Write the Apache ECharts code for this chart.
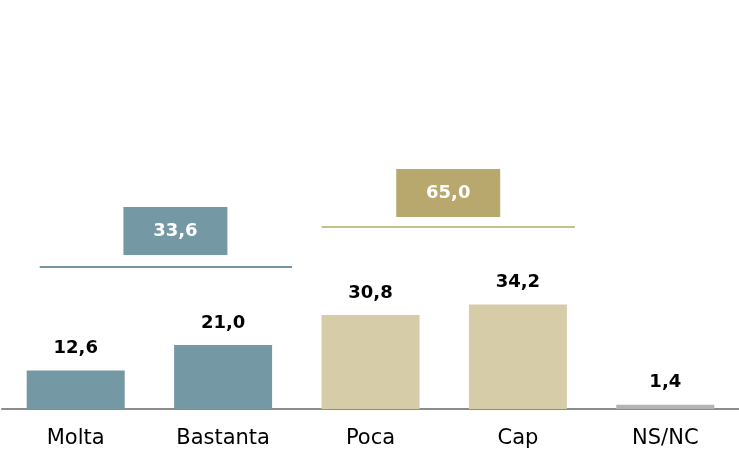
<!DOCTYPE html>
<html><head><meta charset="utf-8">
<script src="https://cdn.jsdelivr.net/npm/echarts@6/dist/echarts.min.js"></script>
<style>html,body{margin:0;padding:0;background:#fff}#c{width:739px;height:455px}</style>
</head><body><div id="c"></div>
<script>
const categories = ['Molta', 'Bastanta', 'Poca', 'Cap', 'NS/NC'];
const values = [12.6, 21.0, 30.8, 34.2, 1.4];
const groupTotals = [33.6, 65.0];
const groupStart = [0, 2];
const groupEnd = [1, 3];

const barColors = ['#7499A4', '#7499A4', '#D6CDA8', '#D6CDA8', '#B3B3B3'];
const boxColors = ['#7499A4', '#B9A86E'];
const lineColors = ['#7499A4', '#C9BD8C'];
// layout constants (value-axis levels / pixel offsets) for annotations
const LAYOUT = { level: [46.5, 59.6], lineL: [36, 49], lineR: [69, 57], boxDx: [26, 4], boxW: 104, boxH: 48, boxGap: [12, 10] };

const fmt = v => v.toFixed(1).replace('.', ',');
const FONT = 'DejaVu Sans';

const chart = echarts.init(document.getElementById('c'), null, { renderer: 'canvas' });
chart.setOption({
  animation: false,
  grid: { left: 2, right: -3, top: 0, bottom: 46, containLabel: false },
  xAxis: {
    type: 'category', data: categories,
    axisLine: { lineStyle: { color: '#8C8C8C', width: 2 } },
    axisTick: { show: false },
    axisLabel: { color: '#000', fontFamily: FONT, fontSize: 21, margin: 19 }
  },
  yAxis: { type: 'value', min: 0, max: 134, show: false, splitLine: { show: false } },
  series: [
    {
      type: 'bar', barWidth: 98,
      data: values.map((v, i) => ({ value: v, itemStyle: { color: barColors[i] } })),
      label: { show: true, position: 'top', distance: 13, color: '#000', fontFamily: FONT, fontWeight: 'bold', fontSize: 18, formatter: p => fmt(p.value) }
    },
    {
      type: 'custom',
      data: groupTotals.map((t, i) => [groupStart[i], groupEnd[i], t]),
      renderItem: function (params, api) {
        const i = params.dataIndex;
        const s = api.coord([api.value(0), LAYOUT.level[i]]);
        const e = api.coord([api.value(1), LAYOUT.level[i]]);
        const y = s[1];
        const x1 = s[0] - LAYOUT.lineL[i], x2 = e[0] + LAYOUT.lineR[i];
        const cx = (s[0] + e[0]) / 2 + LAYOUT.boxDx[i];
        const by = y - LAYOUT.boxGap[i] - LAYOUT.boxH;
        return {
          type: 'group',
          children: [
            { type: 'line', shape: { x1: x1, y1: y, x2: x2, y2: y }, style: { stroke: lineColors[i], lineWidth: 2 } },
            { type: 'rect', shape: { x: cx - LAYOUT.boxW / 2, y: by, width: LAYOUT.boxW, height: LAYOUT.boxH }, style: { fill: boxColors[i] } },
            { type: 'text', x: cx, y: by + LAYOUT.boxH / 2, style: { text: fmt(api.value(2)), fill: '#fff', font: 'bold 18px "' + FONT + '"', align: 'center', verticalAlign: 'middle' } }
          ]
        };
      }
    }
  ]
});
</script></body></html>
